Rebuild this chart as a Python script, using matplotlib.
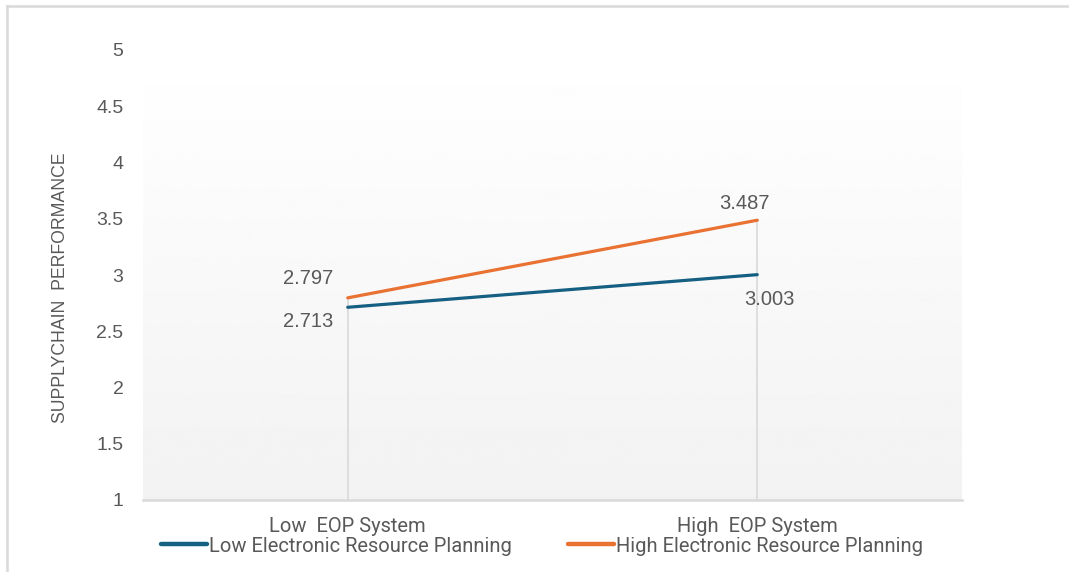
import numpy as np
import matplotlib.pyplot as plt
from matplotlib.lines import Line2D

categories = ["Low  EOP System", "High  EOP System"]
series_names = ["Low Electronic Resource Planning", "High Electronic Resource Planning"]
low_erp = [2.713, 3.003]
high_erp = [2.797, 3.487]
y_ticks = [1, 1.5, 2, 2.5, 3, 3.5, 4, 4.5, 5]
y_tick_labels = ["1", "1.5", "2", "2.5", "3", "3.5", "4", "4.5", "5"]

BLUE = "#156082"
ORANGE = "#E97132"
TEXT = "#595959"
GRID = "#d9d9d9"
NARROW = ["Roboto", "DejaVu Sans"]

plt.rcParams["font.family"] = ["Liberation Sans", "DejaVu Sans"]

fig = plt.figure(figsize=(10.69, 5.72), dpi=100)
ax = fig.add_axes([143 / 1069, 1 - 500 / 572, (962 - 143) / 1069, 450 / 572])

# outer chart frame (only top/left edges are inside the image)
fig.add_artist(Line2D([7 / 1069, 7 / 1069], [0, 1 - 6 / 572], transform=fig.transFigure,
                      color=GRID, lw=1.8))
fig.add_artist(Line2D([7 / 1069, 1], [1 - 6 / 572, 1 - 6 / 572], transform=fig.transFigure,
                      color=GRID, lw=1.8))

x = np.arange(len(categories))
ax.set_xlim(-0.5, 1.5)
ax.set_ylim(1, 5)

# plot area gradient: white at the top, light grey at the bottom
grad = np.linspace(1.0, 0.949, 256).reshape(-1, 1)
ax.imshow(grad, extent=(-0.5, 1.5, 1, 5), origin="upper", aspect="auto",
          cmap="gray", vmin=0, vmax=1, zorder=0)

# drop lines from the highest point of each category
for xi, lo, hi in zip(x, low_erp, high_erp):
    ax.plot([xi, xi], [1, max(lo, hi)], color=GRID, lw=1.2, zorder=1)

ax.plot(x, low_erp, color=BLUE, lw=2.3, solid_capstyle="round", zorder=3,
        label=series_names[0])
ax.plot(x, high_erp, color=ORANGE, lw=2.3, solid_capstyle="round", zorder=3,
        label=series_names[1])

# data labels
lab = dict(color=TEXT, fontsize=14.5)
ax.annotate(f"{high_erp[0]:.3f}", (x[0], high_erp[0]), xytext=(-14, 19),
            textcoords="offset pixels", ha="right", va="center", **lab)
ax.annotate(f"{low_erp[0]:.3f}", (x[0], low_erp[0]), xytext=(-14, -14),
            textcoords="offset pixels", ha="right", va="center", **lab)
ax.annotate(f"{high_erp[1]:.3f}", (x[1], high_erp[1]), xytext=(-13, 17),
            textcoords="offset pixels", ha="center", va="center", **lab)
ax.annotate(f"{low_erp[1]:.3f}", (x[1], low_erp[1]), xytext=(12, -25),
            textcoords="offset pixels", ha="center", va="center", **lab)

for side in ["top", "right", "left"]:
    ax.spines[side].set_visible(False)
ax.spines["bottom"].set_color(GRID)
ax.spines["bottom"].set_linewidth(1.8)

ax.set_yticks(y_ticks)
ax.set_yticklabels(y_tick_labels)
ax.tick_params(axis="y", length=0, pad=14, labelcolor=TEXT, labelsize=14)
ax.set_xticks(x)
ax.set_xticklabels(categories, fontfamily=NARROW, fontsize=14.5)
ax.tick_params(axis="x", length=0, pad=12, labelcolor=TEXT)

ax.set_ylabel("SUPPLYCHAIN  PERFORMANCE", color=TEXT, fontsize=12.7, labelpad=20)
ax.yaxis.label.set_y(0.471)

leg = fig.legend(loc="center", bbox_to_anchor=(0.507, 1 - 546 / 572), ncol=2,
                 frameon=False, handlelength=2.3, handletextpad=0.1,
                 columnspacing=2.8, prop={"family": NARROW, "size": 14.5})
for t in leg.get_texts():
    t.set_color(TEXT)
for h in leg.get_lines():
    h.set_linewidth(3.2)

fig.savefig("out.png", dpi=100)
